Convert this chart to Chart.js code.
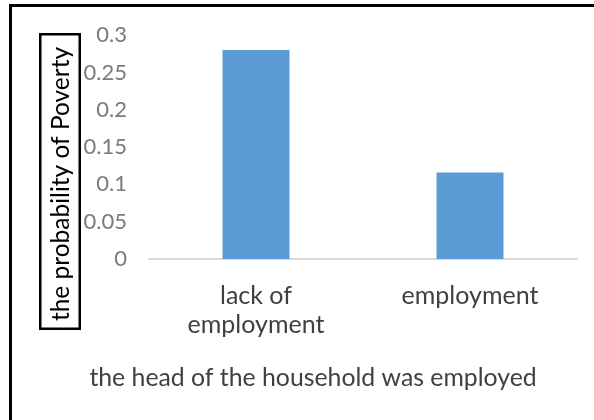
<!DOCTYPE html>
<html>
<head>
<meta charset="utf-8">
<script src="https://cdn.jsdelivr.net/npm/chart.js@4.4.1/dist/chart.umd.min.js"></script>
<style>
  html, body { margin: 0; padding: 0; background: #ffffff; }
  #wrap { position: absolute; left: 0; top: 0; width: 594px; height: 420px; }
</style>
</head>
<body>
<div id="wrap"><canvas id="c" width="594" height="420"></canvas></div>
<script>
const categories = [['lack of', 'employment'], ['employment']];
const povertyProbability = [0.28, 0.116];
const yTickValues = [0, 0.05, 0.1, 0.15, 0.2, 0.25, 0.3];
const yTitle = 'the probability of Poverty';
const xTitle = 'the head of the household was employed';

const FONT = 'Lato';

const decorPlugin = {
  id: 'decor',
  beforeDraw(chart) {
    const ctx = chart.ctx;
    ctx.save();
    ctx.fillStyle = '#000000';
    ctx.fillRect(9, 4, 594 - 9, 3);
    ctx.fillRect(9, 4, 3, 420 - 4);
    ctx.restore();
  },
  afterDraw(chart) {
    const ctx = chart.ctx;
    ctx.save();
    ctx.strokeStyle = '#000000';
    ctx.lineWidth = 2.5;
    ctx.strokeRect(40.25, 34.25, 39.5, 294.5);
    ctx.translate(61, 184);
    ctx.rotate(-Math.PI / 2);
    ctx.fillStyle = '#000000';
    ctx.font = '24.5px "' + FONT + '"';
    ctx.textAlign = 'center';
    ctx.textBaseline = 'middle';
    ctx.fillText(yTitle, 0, 0);
    ctx.restore();
    ctx.save();
    ctx.fillStyle = '#404040';
    ctx.font = '24.8px "' + FONT + '"';
    ctx.textAlign = 'center';
    ctx.textBaseline = 'middle';
    ctx.fillText(xTitle, 313, 378);
    ctx.restore();
  }
};

new Chart(document.getElementById('c'), {
  type: 'bar',
  data: {
    labels: categories,
    datasets: [{
      data: povertyProbability,
      backgroundColor: '#5b9bd5',
      borderWidth: 0,
      categoryPercentage: 1,
      barPercentage: 0.313
    }]
  },
  options: {
    responsive: false,
    animation: false,
    devicePixelRatio: 1,
    layout: { padding: { left: 0, top: 34, right: 17, bottom: 0 } },
    plugins: { legend: { display: false }, tooltip: { enabled: false } },
    scales: {
      x: {
        grid: { display: false, drawTicks: false },
        border: { display: true, color: '#d9d9d9', width: 2 },
        ticks: {
          color: '#404040',
          font: { family: FONT, size: 25, lineHeight: 1.17 },
          padding: 22,
          maxRotation: 0,
          autoSkip: false
        },
        afterFit(scale) { scale.height = 420 - 259; }
      },
      y: {
        min: 0,
        max: 0.3,
        afterBuildTicks(scale) { scale.ticks = yTickValues.map(v => ({ value: v })); },
        grid: { display: false, drawTicks: false },
        border: { display: false },
        ticks: {
          color: '#7a7a7a',
          font: { family: FONT, size: 22 },
          padding: 22,
          callback: (v) => String(+v.toFixed(2))
        },
        afterFit(scale) { scale.width = 149; }
      }
    }
  },
  plugins: [decorPlugin]
});
</script>
</body>
</html>
